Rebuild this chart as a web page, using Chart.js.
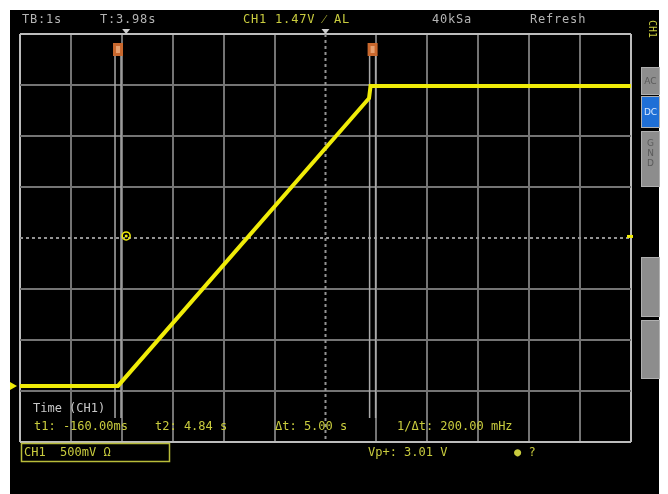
<!DOCTYPE html>
<html>
<head>
<meta charset="utf-8">
<script src="https://cdn.jsdelivr.net/npm/chart.js@4/dist/chart.umd.min.js"></script>
<style>
  html, body { margin: 0; padding: 0; background: #ffffff; }
  #wrap { position: relative; width: 668px; height: 494px; overflow: hidden; }
  #scope { position: absolute; left: 0; top: 0; }
  .t { position: absolute; font-family: "DejaVu Sans Mono", monospace; font-size: 12px;
       line-height: 14px; white-space: pre; color: #b4b4b4; }
  .hd { letter-spacing: 0.8px; }
  .y { color: #c9cc3e; }
  .btn { position: absolute; font-family: "DejaVu Sans", sans-serif; font-size: 9px;
         line-height: 10px; color: #5a5a5a; text-align: center; width: 19px; }
</style>
</head>
<body>
<div id="wrap">
  <canvas id="scope" width="668" height="494"></canvas>

  <!-- status line -->
  <div class="t hd" style="left:22px;top:12px">TB:1s</div>
  <div class="t hd" style="left:100px;top:12px">T:3.98s</div>
  <div class="t hd y" style="left:243px;top:12px">CH1 1.47V ⁄ AL</div>
  <div class="t hd" style="left:432px;top:12px">40kSa</div>
  <div class="t hd" style="left:530px;top:12px">Refresh</div>

  <!-- cursor readout -->
  <div class="t" style="left:33px;top:401px;color:#c8c8c8">Time (CH1)</div>
  <div class="t y" style="left:34px;top:419px">t1: -160.00ms</div>
  <div class="t y" style="left:155px;top:419px">t2: 4.84 s</div>
  <div class="t y" style="left:275px;top:419px">Δt: 5.00 s</div>
  <div class="t y" style="left:397px;top:419px">1/Δt: 200.00 mHz</div>

  <!-- channel / measurement line -->
  <div class="t y" style="left:24px;top:445px">CH1  500mV Ω</div>
  <div class="t y" style="left:368px;top:445px">Vp+: 3.01 V</div>
  <div class="t y" style="left:514px;top:445px">● ?</div>

  <!-- soft-key menu labels -->
  <div class="btn" style="left:641px;top:76px">AC</div>
  <div class="btn" style="left:641px;top:107px;color:#d8e8ff">DC</div>
  <div class="btn" style="left:641px;top:138px">G<br>N<br>D</div>
</div>

<script>
// ---- acquisition settings ----
const SEC_PER_DIV = 1;          // TB: 1 s
const VOLT_PER_DIV = 0.5;       // CH1: 500 mV
const H_DIVS = 12;
const V_DIVS = 8;
const X_RANGE = [-2.085, 9.915]; // seconds across the screen
const Y_RANGE = [-0.55, 3.45];   // volts across the screen

// ---- CH1 trace (time in s, voltage in V) ----
const TIME_S = [-2.09, -0.16, 4.77, 4.80, 9.92];
const CH1_V  = [0.00, 0.00, 2.82, 2.94, 2.94];

// ---- time cursors and trigger ----
const CURSOR_T = [-0.16, 4.84];
const TRIGGER_T = 0;
const TRIGGER_V = 1.47;
const GROUND_V = 0;

const YELLOW = '#f0ec08';

const scopeDecor = {
  id: 'scopeDecor',
  beforeDraw(chart) {
    const ctx = chart.ctx;
    ctx.save();
    ctx.fillStyle = '#000000';
    ctx.fillRect(10, 10, 649, 484);
    ctx.restore();
  },
  beforeDatasetsDraw(chart) {
    const { ctx, chartArea: a, scales: { x, y } } = chart;
    ctx.save();
    // dashed centre cross
    ctx.strokeStyle = '#949494';
    ctx.lineWidth = 2;
    ctx.setLineDash([3, 3]);
    const cx = x.getPixelForValue(X_RANGE[0] + (H_DIVS / 2) * SEC_PER_DIV);
    const cy = y.getPixelForValue(Y_RANGE[0] + (V_DIVS / 2) * VOLT_PER_DIV);
    ctx.beginPath();
    ctx.moveTo(cx, a.top); ctx.lineTo(cx, a.bottom);
    ctx.moveTo(a.left, cy); ctx.lineTo(a.right, cy);
    ctx.stroke();
    ctx.setLineDash([]);
    // time cursors: pairs of thin grey lines
    ctx.strokeStyle = '#a8a8a8';
    ctx.lineWidth = 1.5;
    CURSOR_T.forEach(t => {
      const px = x.getPixelForValue(t);
      ctx.beginPath();
      ctx.moveTo(px - 3, 56); ctx.lineTo(px - 3, 418);
      ctx.moveTo(px + 3, 56); ctx.lineTo(px + 3, 418);
      ctx.stroke();
    });
    ctx.restore();
  },
  afterDatasetsDraw(chart) {
    const { ctx, chartArea: a, scales: { x, y } } = chart;
    ctx.save();
    // cursor flags
    CURSOR_T.forEach(t => {
      const px = x.getPixelForValue(t);
      ctx.fillStyle = '#c9682e';
      ctx.fillRect(px - 5, 43, 10, 13);
      ctx.fillStyle = '#e6a070';
      ctx.fillRect(px - 2, 46, 4, 7);
    });
    // trigger position and screen centre markers on top edge
    ctx.fillStyle = '#d0d0d0';
    [x.getPixelForValue(TRIGGER_T), x.getPixelForValue(X_RANGE[0] + 6 * SEC_PER_DIV)].forEach(px => {
      ctx.beginPath();
      ctx.moveTo(px - 4, a.top - 5); ctx.lineTo(px + 4, a.top - 5); ctx.lineTo(px, a.top);
      ctx.closePath(); ctx.fill();
    });
    // trigger point marker
    const tx = x.getPixelForValue(TRIGGER_T);
    const ty = y.getPixelForValue(TRIGGER_V);
    ctx.strokeStyle = YELLOW; ctx.lineWidth = 1.5;
    ctx.beginPath(); ctx.arc(tx, ty, 4, 0, Math.PI * 2); ctx.stroke();
    ctx.fillStyle = YELLOW;
    ctx.beginPath(); ctx.arc(tx, ty, 1.5, 0, Math.PI * 2); ctx.fill();
    // trigger level tick on right edge
    ctx.fillRect(a.right - 4, ty - 1, 6, 3);
    // ground reference marker on left edge
    const gy = y.getPixelForValue(GROUND_V);
    ctx.beginPath();
    ctx.moveTo(10, gy - 4); ctx.lineTo(17, gy); ctx.lineTo(10, gy + 4);
    ctx.closePath(); ctx.fill();
    // channel box outline
    ctx.strokeStyle = '#b8bc3a'; ctx.lineWidth = 1.5;
    ctx.strokeRect(21.5, 443.5, 148, 18);
    // channel tag on the right margin
    ctx.translate(649, 20);
    ctx.rotate(Math.PI / 2);
    ctx.fillStyle = '#c9cc3e';
    ctx.font = '10px "DejaVu Sans Mono"';
    ctx.fillText('CH1', 0, 0);
    ctx.restore();

    // soft-key buttons at the right
    ctx.save();
    const keys = [[67, 95, '#8d8d8d'], [96, 128, '#1f6fd6'], [131, 187, '#8d8d8d'],
                  [257, 317, '#8d8d8d'], [320, 379, '#8d8d8d']];
    keys.forEach(([t, b, c]) => {
      ctx.fillStyle = c;
      ctx.fillRect(641, t, 19, b - t);
      ctx.strokeStyle = '#b0b0b0'; ctx.lineWidth = 1;
      ctx.strokeRect(641.5, t + 0.5, 18, b - t - 1);
    });
    ctx.fillStyle = '#ffffff';
    ctx.fillRect(660, 0, 8, 494);
    ctx.restore();
  }
};

const gridColor = (edgeIdx, centreIdx) => c => {
  if (c.index === centreIdx) return 'rgba(0,0,0,0)';
  if (c.index === 0 || c.index === edgeIdx) return '#bcbcbc';
  return '#747474';
};

new Chart(document.getElementById('scope'), {
  type: 'line',
  data: {
    datasets: [{
      label: 'CH1',
      data: TIME_S.map((t, i) => ({ x: t, y: CH1_V[i] })),
      borderColor: YELLOW,
      borderWidth: 4,
      pointRadius: 0,
      tension: 0,
      fill: false,
      borderJoinStyle: 'miter'
    }]
  },
  options: {
    responsive: false,
    animation: false,
    devicePixelRatio: 1,
    layout: { padding: { left: 20, top: 34, right: 37, bottom: 52 } },
    plugins: { legend: { display: false }, tooltip: { enabled: false } },
    scales: {
      x: {
        type: 'linear', min: X_RANGE[0], max: X_RANGE[1],
        afterBuildTicks: s => {
          s.ticks = Array.from({ length: H_DIVS + 1 }, (_, k) => ({ value: X_RANGE[0] + k * SEC_PER_DIV }));
        },
        ticks: { display: false },
        grid: { drawTicks: false, lineWidth: 2, color: gridColor(H_DIVS, H_DIVS / 2) },
        border: { display: false }
      },
      y: {
        type: 'linear', min: Y_RANGE[0], max: Y_RANGE[1],
        afterBuildTicks: s => {
          s.ticks = Array.from({ length: V_DIVS + 1 }, (_, k) => ({ value: Y_RANGE[0] + k * VOLT_PER_DIV }));
        },
        ticks: { display: false },
        grid: { drawTicks: false, lineWidth: 2, color: gridColor(V_DIVS, V_DIVS / 2) },
        border: { display: false }
      }
    }
  },
  plugins: [scopeDecor]
});
</script>
</body>
</html>
